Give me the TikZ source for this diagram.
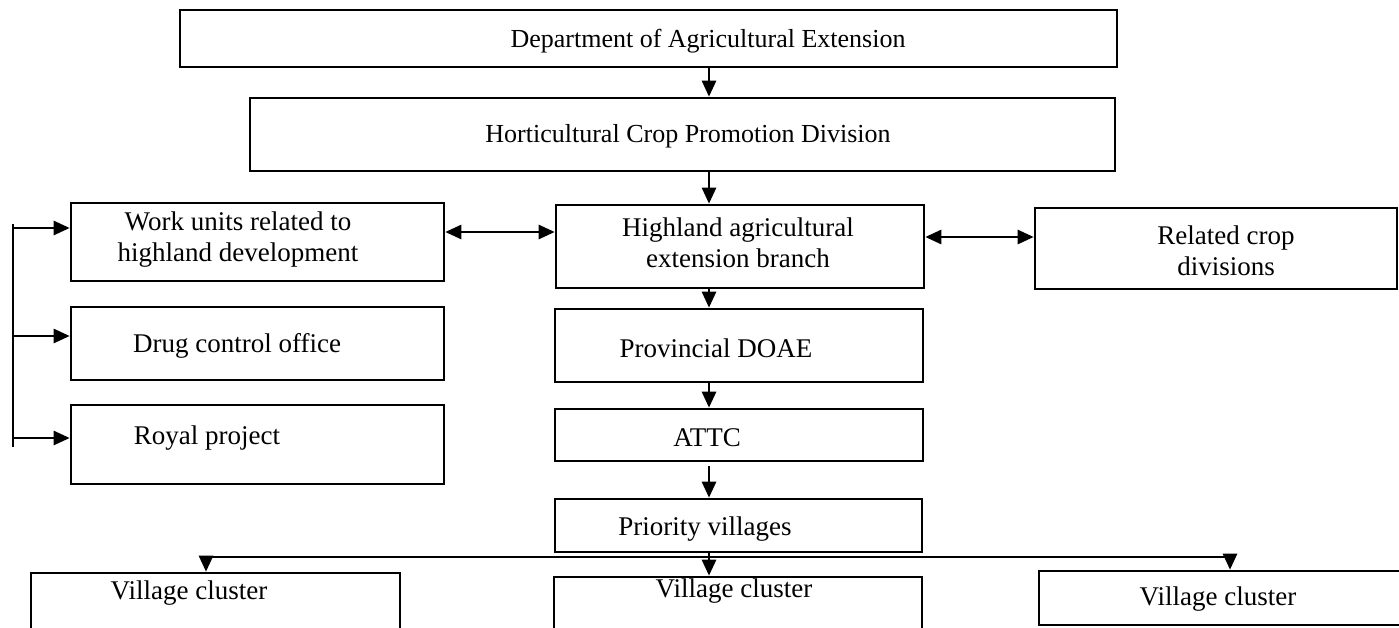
\documentclass[tikz,border=0pt]{standalone}
\usepackage{fontspec}
\setmainfont{Liberation Serif}
\usetikzlibrary{arrows.meta}
\newcommand{\fsz}{\fontsize{27}{31}\selectfont}
\newcommand{\fsh}{\fontsize{26}{30}\selectfont}
\tikzset{
  box/.style={draw, line width=2.6pt, rectangle, inner sep=0pt},
  txt/.style={font=\fsz, align=center, inner sep=0pt},
  conn/.style={line width=2.6pt},
  arr/.style={line width=2.6pt, -{Triangle[length=16pt,width=14pt]}},
  darr/.style={line width=2.6pt, {Triangle[length=16pt,width=14pt]}-{Triangle[length=16pt,width=14pt]}}
}
\newcommand{\boxnode}[5]{%
  \node[box, minimum width={(#4)-(#2)}, minimum height={(#5)-(#3)}] (#1) at ({((#2)+(#4))/2},{((#3)+(#5))/2}) {};}
\begin{document}
\begin{tikzpicture}[x=1pt,y=-1pt]
\useasboundingbox (0,0) rectangle (1399,627);
% boxes
\boxnode{top}{180}{10}{1117}{67}
\boxnode{hort}{250}{98}{1115}{171}
\boxnode{branch}{556}{205}{924}{288}
\boxnode{work}{71}{203}{444}{281}
\boxnode{related}{1035}{208}{1397}{289}
\boxnode{drug}{71}{307}{444}{380}
\boxnode{royal}{71}{405}{444}{484}
\boxnode{prov}{555}{309}{923}{382}
\boxnode{attc}{555}{409}{923}{461}
\boxnode{prio}{555}{499}{922}{552}
\boxnode{vca}{31}{573}{400}{690}
\boxnode{vcb}{554}{577}{922}{690}
\boxnode{vcc}{1039}{571}{1410}{625}
% texts
\node[txt, font=\fsh] (top-t) at (708,41) {Department of Agricultural Extension};
\node[txt, font=\fsh] (hort-t) at (688,136) {Horticultural Crop Promotion Division};
\node[txt] (branch-t) at (738,243) {Highland agricultural\\extension branch};
\node[txt] (work-t) at (238,240) {Work units related to\\highland development};
\node[txt] (related-t) at (1226,251) {Related crop\\divisions};
\node[txt] (drug-t) at (237,346) {Drug control office};
\node[txt] (royal-t) at (207,438) {Royal project};
\node[txt] (prov-t) at (716,348) {Provincial DOAE};
\node[txt] (attc-t) at (707,438) {ATTC};
\node[txt] (prio-t) at (705,529) {Priority villages};
\node[txt] (vca-t) at (189,593) {Village cluster};
\node[txt] (vcb-t) at (734,591) {Village cluster};
\node[txt] (vcc-t) at (1218,599) {Village cluster};
% helper coordinates
\coordinate (mx) at (709,0);
\coordinate (lx) at (13,0);
\coordinate (ya) at (0,228);
\coordinate (yb) at (0,336);
\coordinate (yc) at (0,438);
\coordinate (yend) at (0,447);
\coordinate (ytop) at (0,224);
\coordinate (yw) at (0,232);
\coordinate (yr) at (0,237);
\coordinate (hl) at (206,557);
\coordinate (hm) at (709,557);
\coordinate (hr) at (1230,557);
% vertical chain
\draw[arr] (top.south -| mx) -- (hort.north -| mx);
\draw[arr] (hort.south -| mx) -- (branch.north -| mx);
\draw[arr] (branch.south -| mx) -- (prov.north -| mx);
\draw[arr] (prov.south -| mx) -- (attc.north -| mx);
\draw[arr] ([yshift=-4pt]attc.south -| mx) -- (prio.north -| mx);
% side links
\draw[darr] (work.east |- yw) -- (branch.west |- yw);
\draw[darr] (branch.east |- yr) -- (related.west |- yr);
% left bracket
\draw[conn] (lx |- ytop) -- (lx |- yend);
\draw[arr] (lx |- ya) -- (work.west |- ya);
\draw[arr] (lx |- yb) -- (drug.west |- yb);
\draw[arr] (lx |- yc) -- (royal.west |- yc);
% distribution to village clusters
\draw[conn] (prio.south -| mx) -- (hm);
\draw[conn] (hl) -- (hr);
\draw[arr] (hl) -- (vca.north -| hl);
\draw[arr] (hm) -- (vcb.north -| hm);
\draw[arr] (hr) -- (vcc.north -| hr);
\end{tikzpicture}
\end{document}
